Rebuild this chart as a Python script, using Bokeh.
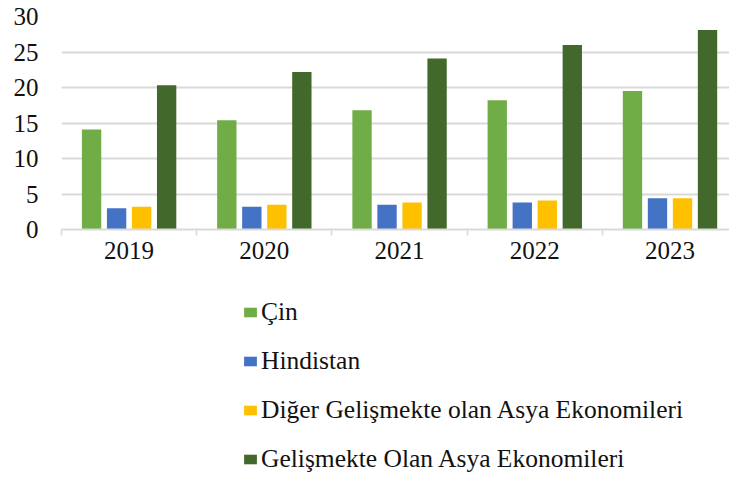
from bokeh.plotting import figure
from bokeh.layouts import column
from bokeh.models import ColumnDataSource, Range1d, FixedTicker, Legend, LegendItem
from bokeh.transform import dodge
from bokeh.embed import file_html
from bokeh.resources import INLINE

years = ["2019", "2020", "2021", "2022", "2023"]
cin = [14.1, 15.4, 16.8, 18.2, 19.5]
hindistan = [3.0, 3.2, 3.5, 3.8, 4.4]
diger = [3.2, 3.5, 3.8, 4.1, 4.4]
gelismekte = [20.3, 22.2, 24.1, 26.0, 28.1]

series_names = ["Çin", "Hindistan", "Diğer Gelişmekte olan Asya Ekonomileri",
                "Gelişmekte Olan Asya Ekonomileri"]
colors = ["#70AD47", "#4472C4", "#FFC000", "#43682B"]

src = ColumnDataSource(dict(idx=list(range(len(years))), cin=cin, hindistan=hindistan,
                            diger=diger, gelismekte=gelismekte))
keys = ["cin", "hindistan", "diger", "gelismekte"]

FONT = "Liberation Serif"
TXT = "#111111"

H1 = 280
p = figure(width=729, height=H1, output_backend="svg", toolbar_location=None,
           x_range=Range1d(-0.5, 4.44), y_range=Range1d(0, 30),
           min_border_left=61, min_border_right=0, min_border_top=16,
           min_border_bottom=H1 - 229)
p.outline_line_color = None

step = 0.185
bw = 0.143
for i, k in enumerate(keys):
    p.vbar(x=dodge("idx", (i - 1.5) * step, range=p.x_range), top=k, width=bw,
           bottom=0, source=src, fill_color=colors[i], line_color=None)

p.xaxis.ticker = FixedTicker(ticks=list(range(len(years))),
                             minor_ticks=[i - 0.5 for i in range(len(years) + 1)])
p.xaxis.major_label_overrides = {i: y for i, y in enumerate(years)}
p.xaxis.major_tick_line_color = None
p.xaxis.major_tick_out = 0
p.xaxis.major_tick_in = 0
p.xaxis.minor_tick_line_color = "#d9d9d9"
p.xaxis.minor_tick_line_width = 1.5
p.xaxis.minor_tick_out = 6
p.xaxis.minor_tick_in = 0
p.xaxis.axis_line_color = "#d9d9d9"
p.xaxis.axis_line_width = 2
p.xaxis.major_label_text_font = FONT
p.xaxis.major_label_text_font_size = "25px"
p.xaxis.major_label_text_color = TXT
p.xaxis.major_label_standoff = 6

p.yaxis.ticker = FixedTicker(ticks=[0, 5, 10, 15, 20, 25, 30])
p.yaxis.axis_line_color = None
p.yaxis.major_tick_line_color = None
p.yaxis.minor_tick_line_color = None
p.yaxis.major_tick_out = 0
p.yaxis.major_tick_in = 0
p.yaxis.major_label_text_font = FONT
p.yaxis.major_label_text_font_size = "25px"
p.yaxis.major_label_text_color = TXT
p.yaxis.major_label_standoff = 23

p.xgrid.grid_line_color = None
p.ygrid.grid_line_color = "#d9d9d9"
p.ygrid.grid_line_width = 2

# legend-only figure underneath; its bars lie outside its visible y range
H2 = 477 - H1
p2 = figure(width=729, height=H2, output_backend="svg", toolbar_location=None,
            x_range=Range1d(-0.5, 4.44), y_range=Range1d(1000, 1001),
            min_border_left=61, min_border_right=0, min_border_top=0, min_border_bottom=0)
p2.axis.visible = False
p2.grid.visible = False
p2.outline_line_color = None
leg_renderers = [p2.vbar(x="idx", top=k, width=bw, bottom=0, source=src,
                         fill_color=c, line_color=None) for k, c in zip(keys, colors)]

legend = Legend(items=[LegendItem(label=n, renderers=[r]) for n, r in zip(series_names, leg_renderers)],
                location=(181, 2.5), orientation="vertical",
                padding=0, margin=0, spacing=18, label_height=31,
                glyph_width=16, glyph_height=12, label_standoff=3,
                label_text_font=FONT, label_text_font_size="25.5px",
                label_text_color=TXT,
                border_line_color=None, background_fill_alpha=0)
p2.add_layout(legend, "center")

layout = column(p, p2, spacing=0)
open("out.html", "w").write(file_html(layout, INLINE))
